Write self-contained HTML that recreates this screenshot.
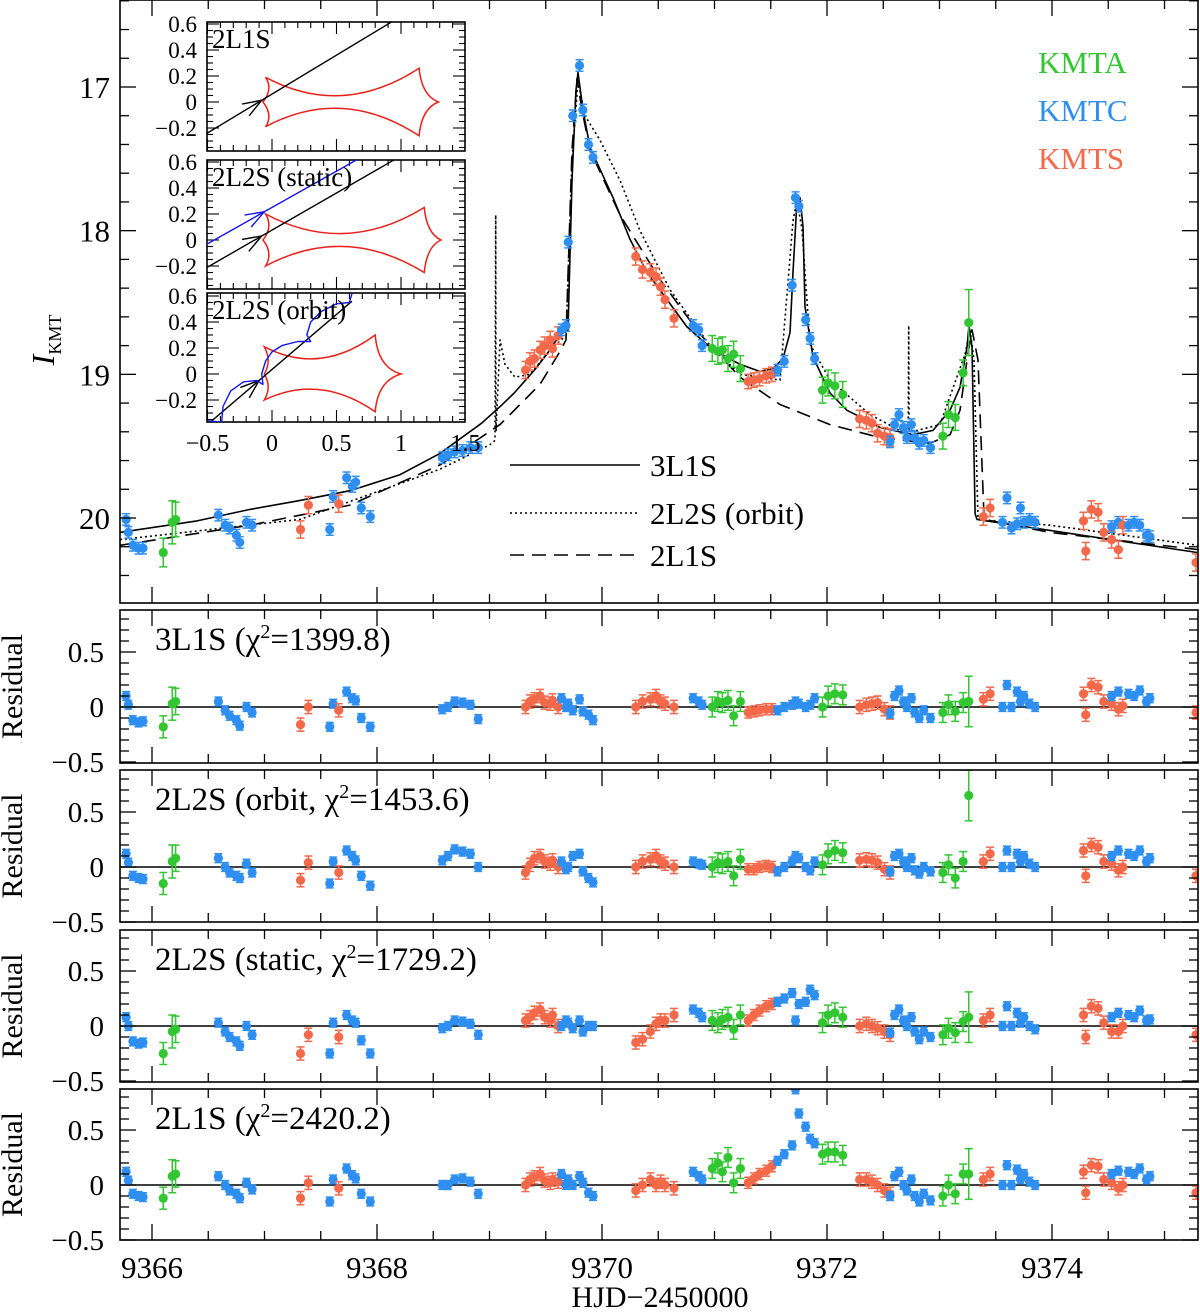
<!DOCTYPE html>
<html><head><meta charset="utf-8">
<style>
html,body{margin:0;padding:0;background:#fff;}
svg{display:block;}
text{font-family:"Liberation Serif",serif;fill:#000;}
</style></head>
<body>
<svg id="chart" width="1200" height="1312" viewBox="0 0 1200 1312" xmlns="http://www.w3.org/2000/svg"></svg>
<script>
// ---------- DATA ----------
const obsTime = [9365.77,9365.79,9365.83,9365.88,9365.92,9366.10,9366.18,9366.21,9366.59,9366.65,
9366.69,9366.75,9366.78,9366.84,9366.89,9367.32,9367.39,9367.61,9367.58,9367.66,
9367.73,9367.78,9367.81,9367.86,9367.94,9368.58,9368.63,9368.69,9368.76,9368.83,
9368.90,9369.32,9369.36,9369.40,9369.45,9369.49,9369.54,9369.56,9369.61,9369.64,
9369.68,9369.70,9369.74,9369.80,9369.83,9369.88,9369.92,9370.30,9370.36,9370.43,
9370.48,9370.52,9370.56,9370.64,9370.81,9370.86,9370.89,9370.98,9371.03,9371.07,
9371.12,9371.17,9371.23,9371.30,9371.35,9371.40,9371.46,9371.51,9371.56,9371.62,
9371.69,9371.72,9371.75,9371.81,9371.85,9371.89,9371.96,9372.01,9372.07,9372.14,
9372.29,9372.35,9372.40,9372.45,9372.51,9372.56,9372.56,9372.60,9372.64,9372.68,
9372.71,9372.75,9372.78,9372.82,9372.86,9372.92,9373.03,9373.08,9373.14,9373.21,
9373.26,9373.39,9373.45,9373.56,9373.60,9373.64,9373.69,9373.72,9373.75,9373.80,
9373.85,9374.28,9374.30,9374.35,9374.41,9374.46,9374.53,9374.53,9374.59,9374.63,
9374.59,9374.68,9374.73,9374.78,9374.84,9374.87,9375.28];
const obsMag = [20.01,20.10,20.19,20.21,20.21,20.24,20.03,20.01,19.98,20.05,
20.07,20.12,20.17,20.03,20.05,20.08,19.91,19.85,20.08,19.90,
19.72,19.78,19.75,19.93,19.99,19.58,19.56,19.54,19.53,19.51,
19.51,18.97,18.91,18.89,18.83,18.80,18.76,18.82,18.73,18.69,
18.66,18.08,17.20,16.85,17.16,17.40,17.49,18.18,18.27,18.29,
18.32,18.39,18.48,18.61,18.66,18.69,18.80,18.82,18.84,18.83,
18.89,18.86,18.96,19.05,19.04,19.03,19.01,19.00,18.97,18.91,
18.38,17.77,17.83,18.62,18.75,18.89,19.11,19.06,19.08,19.14,
19.31,19.32,19.34,19.41,19.43,19.44,19.47,19.35,19.28,19.37,
19.44,19.35,19.44,19.48,19.46,19.51,19.43,19.28,19.30,18.99,
18.64,19.99,19.93,20.03,19.86,20.07,20.04,19.93,20.03,20.01,
20.03,20.02,20.23,19.94,19.96,20.10,20.15,20.06,20.03,20.05,
20.22,20.05,20.03,20.05,20.12,20.13,20.31];
const obsSite = ["C","C","C","C","C","A","A","A","C","C",
"C","C","C","C","C","S","S","C","C","S",
"C","C","C","C","C","C","C","C","C","C",
"C","S","S","S","S","S","S","S","S","C",
"C","C","C","C","C","C","C","S","S","S",
"S","S","S","S","C","C","C","A","A","A",
"A","A","A","S","S","S","S","S","C","C",
"C","C","C","C","C","C","A","A","A","A",
"S","S","S","S","S","S","C","C","C","C",
"C","C","C","C","C","C","A","A","A","A",
"A","S","S","C","C","C","C","C","C","C",
"C","S","S","S","S","S","S","C","C","S",
"S","C","C","C","C","C","S"];
const obsErr = [0.04,0.04,0.04,0.04,0.04,0.10,0.15,0.12,0.04,0.04,
0.04,0.04,0.04,0.04,0.04,0.06,0.06,0.04,0.04,0.06,
0.04,0.04,0.04,0.04,0.04,0.04,0.04,0.04,0.04,0.04,
0.04,0.06,0.06,0.06,0.06,0.06,0.06,0.06,0.06,0.04,
0.04,0.04,0.04,0.04,0.04,0.04,0.04,0.06,0.06,0.06,
0.06,0.06,0.06,0.06,0.04,0.04,0.04,0.09,0.09,0.09,
0.09,0.09,0.09,0.05,0.05,0.05,0.05,0.05,0.04,0.04,
0.04,0.04,0.04,0.04,0.04,0.04,0.09,0.09,0.09,0.09,
0.06,0.06,0.06,0.06,0.06,0.06,0.04,0.04,0.04,0.04,
0.04,0.04,0.04,0.04,0.04,0.04,0.09,0.09,0.09,0.09,
0.23,0.06,0.06,0.04,0.04,0.04,0.04,0.04,0.04,0.04,
0.04,0.06,0.06,0.06,0.06,0.06,0.06,0.04,0.04,0.06,
0.06,0.04,0.04,0.04,0.04,0.04,0.06];
const res3L1S = [0.10,0.02,-0.12,-0.14,-0.13,-0.18,0.03,0.05,0.05,-0.03,
-0.08,-0.12,-0.17,0.00,-0.05,-0.16,0.00,0.03,-0.18,-0.03,
0.14,0.08,0.06,-0.10,-0.18,-0.02,0.00,0.05,0.04,0.02,
-0.11,0.00,0.05,0.07,0.10,0.04,0.03,0.06,0.00,0.08,
0.00,0.03,-0.03,0.07,-0.04,-0.07,-0.12,0.00,0.05,0.07,
0.10,0.05,0.03,0.00,0.08,0.05,0.02,0.00,0.05,0.04,
0.06,-0.08,0.05,-0.05,-0.04,-0.03,-0.02,-0.02,-0.03,0.00,
0.02,0.05,0.03,0.00,0.02,0.08,0.00,0.10,0.12,0.11,
0.00,0.02,0.03,0.04,-0.02,-0.05,-0.06,0.10,0.15,0.05,
0.00,0.08,-0.05,-0.10,-0.03,-0.10,-0.05,0.02,-0.04,0.04,
0.05,0.07,0.12,0.00,0.20,0.00,0.14,0.05,0.10,0.03,
0.00,0.12,-0.07,0.20,0.18,0.05,0.03,0.10,0.14,0.01,
-0.02,0.12,0.10,0.15,0.05,0.08,-0.05];
const res2L2SOrbit = [0.12,0.04,-0.08,-0.10,-0.11,-0.15,0.05,0.08,0.08,0.00,
-0.05,-0.08,-0.10,0.03,-0.05,-0.12,0.04,0.05,-0.15,-0.05,
0.15,0.10,0.06,-0.08,-0.17,0.06,0.10,0.16,0.14,0.12,
0.00,-0.05,0.02,0.08,0.10,0.05,0.03,0.06,0.00,0.05,
-0.02,0.00,0.10,0.12,-0.04,-0.10,-0.14,0.00,0.05,0.07,
0.10,0.05,0.03,0.00,0.05,0.03,0.02,0.00,0.04,0.03,
0.05,-0.08,0.07,-0.02,-0.02,0.00,0.01,0.00,-0.04,0.00,
0.05,0.10,0.08,0.00,-0.03,0.05,0.02,0.12,0.15,0.13,
0.06,0.07,0.06,0.04,-0.02,-0.05,-0.04,0.10,0.12,0.05,
0.00,0.08,-0.03,-0.06,0.00,-0.04,-0.05,0.02,-0.10,0.05,
0.65,0.05,0.12,0.00,0.15,0.00,0.12,0.05,0.10,0.03,
0.00,0.15,-0.08,0.20,0.18,0.05,0.03,0.10,0.15,0.00,
-0.03,0.12,0.10,0.15,0.05,0.08,-0.08];
const res2L2SStatic = [0.08,0.00,-0.14,-0.16,-0.15,-0.25,-0.05,-0.03,0.03,-0.05,
-0.10,-0.14,-0.18,0.00,-0.08,-0.25,-0.08,0.03,-0.25,-0.10,
0.10,0.05,0.03,-0.13,-0.25,-0.02,0.00,0.05,0.04,0.02,
-0.08,0.05,0.08,0.12,0.15,0.08,0.05,0.10,0.00,0.00,
0.05,0.03,-0.02,0.05,-0.05,0.00,0.00,-0.15,-0.12,-0.05,
0.02,0.05,0.05,0.10,0.15,0.12,0.08,0.05,0.03,0.06,
0.08,-0.03,0.10,0.05,0.10,0.14,0.18,0.20,0.22,0.25,
0.30,0.05,0.20,0.22,0.33,0.28,0.03,0.10,0.12,0.08,
0.00,0.02,0.00,-0.02,-0.05,-0.08,-0.06,0.10,0.15,0.05,
0.00,0.08,-0.05,-0.12,-0.05,-0.10,-0.08,-0.02,-0.06,0.04,
0.08,0.05,0.10,0.00,0.18,0.00,0.12,0.03,0.08,0.00,
-0.03,0.10,-0.10,0.18,0.16,0.03,-0.05,0.08,0.12,0.00,
-0.05,0.10,0.08,0.14,0.05,0.06,-0.08];
const res2L1S = [0.12,0.04,-0.08,-0.10,-0.11,-0.12,0.08,0.10,0.08,0.00,
-0.05,-0.08,-0.12,0.02,-0.04,-0.12,0.02,0.05,-0.15,-0.03,
0.15,0.09,0.06,-0.08,-0.15,0.00,0.00,0.05,0.06,0.03,
-0.08,0.00,0.05,0.07,0.10,0.04,0.02,0.05,0.03,0.10,
0.00,0.05,0.00,0.08,0.02,-0.07,-0.10,-0.05,0.00,0.05,
0.00,0.03,0.00,-0.03,0.12,0.08,0.05,0.15,0.20,0.12,
0.25,0.02,0.15,0.02,0.06,0.10,0.13,0.17,0.22,0.28,
0.36,0.87,0.65,0.53,0.42,0.38,0.28,0.30,0.30,0.27,
0.05,0.05,0.03,0.00,-0.05,-0.08,-0.10,0.08,0.12,0.00,
-0.05,0.05,-0.10,-0.15,-0.08,-0.14,-0.10,0.00,-0.08,0.10,
0.10,0.05,0.10,0.00,0.18,0.00,0.14,0.05,0.10,0.03,
0.00,0.12,-0.07,0.18,0.17,0.05,0.02,0.10,0.13,0.00,
-0.03,0.12,0.10,0.15,0.05,0.08,-0.07];

// model curves
const m3L1S_t = [9365.716,9366.4,9366.871,9367.3,9367.76,9368.2,9368.56,9368.93,9369.10,9369.22,9369.40,9369.52,9369.62,9369.698,9369.733,9369.769,9369.787,9369.831,9369.893,9370.098,9370.249,9370.40,9370.578,9370.756,9370.987,9371.227,9371.404,9371.52,9371.609,9371.671,9371.698,9371.733,9371.76,9371.787,9371.804,9371.876,9372.027,9372.178,9372.356,9372.471,9372.764,9372.942,9373.093,9373.182,9373.244,9373.262,9373.289,9373.316,9373.333,9375.29];
const m3L1S_I = [20.10,20.02,19.94,19.88,19.81,19.70,19.55,19.34,19.22,19.13,18.97,18.85,18.73,18.69,17.65,17.02,16.90,17.16,17.42,17.77,18.06,18.29,18.48,18.67,18.83,18.93,18.98,18.96,18.89,18.71,18.29,17.79,17.77,17.97,18.53,18.88,19.13,19.25,19.32,19.37,19.42,19.39,19.25,19.09,18.81,18.66,18.81,19.97,20.01,20.24];
const m2L1S_t = [9365.716,9366.871,9367.76,9368.56,9369.093,9369.449,9369.627,9369.68,9369.733,9369.778,9369.822,9369.893,9370.16,9370.516,9370.871,9371.227,9371.582,9372.027,9372.471,9372.916,9373.093,9373.182,9373.244,9373.289,9373.342,9373.396,9373.982,9375.298];
const m2L1S_I = [20.19,20.05,19.91,19.63,19.35,19.07,18.84,18.76,17.44,16.94,17.16,17.44,17.89,18.34,18.72,19.02,19.21,19.35,19.44,19.48,19.42,19.25,18.90,18.69,18.90,20.01,20.10,20.22];
const m2L2S_t = [9365.716,9367.316,9368.56,9369.004,9369.049,9369.055,9369.058,9369.093,9369.138,9369.227,9369.36,9369.538,9369.68,9369.733,9369.787,9369.849,9369.982,9370.16,9370.338,9370.604,9370.96,9371.227,9371.582,9371.698,9371.733,9371.778,9371.849,9372.027,9372.382,9372.693,9372.722,9372.726,9372.73,9372.756,9373.004,9373.227,9373.271,9373.307,9373.342,9373.982,9375.298];
const m2L2S_I = [20.15,20.01,19.66,19.49,19.46,17.89,19.40,18.76,18.93,19.02,19.00,18.83,18.73,17.51,16.96,17.20,17.37,17.65,18.00,18.41,18.80,19.00,19.04,17.93,17.79,17.99,18.79,19.04,19.28,19.41,19.39,18.66,19.39,19.40,19.35,18.86,18.69,18.90,20.01,20.05,20.19];

// ---------- HELPERS ----------
const svg = document.getElementById('chart');
const NS = 'http://www.w3.org/2000/svg';
const COL = {A:'#33c633', C:'#2e8ff0', S:'#f5694b'};
function mk(tag, attrs, parent){
  const e = document.createElementNS(NS, tag);
  for (const k in attrs) e.setAttribute(k, attrs[k]);
  (parent||svg).appendChild(e);
  return e;
}
function txt(str, x, y, size, anchor, parent, family){
  const e = mk('text', {x:x, y:y, 'font-size':size, 'text-anchor':anchor||'start'}, parent);
  if (family) e.setAttribute('font-family', family);
  e.textContent = str;
  return e;
}
const X = t => 152 + 112.5*(t-9366);
const Y = I => 87 + 143.67*(I-17);
const L = 120, R = 1198;

const defs = mk('defs', {});
function clip(id, x, y, w, h){
  const c = mk('clipPath', {id:id}, defs);
  mk('rect', {x:x, y:y, width:w, height:h}, c);
}
clip('cMain', L, 0, R-L, 603);

// ---------- MAIN PANEL ----------
const mainG = mk('g', {'clip-path':'url(#cMain)'});



function modelPath(ts, Is, dash, name){
  let d = '';
  ts.forEach((t,i)=>{ d += (i?'L':'M') + X(t).toFixed(1) + ',' + Y(Is[i]).toFixed(1); });
  const p = mk('path', {d:d, fill:'none', stroke:'#000', 'stroke-width':1.6, 'stroke-dasharray':dash, 'stroke-linejoin':'round'}, mainG);
  
  
}
modelPath(m2L2S_t, m2L2S_I, '2,3', 'model-2l2s-orbit');
modelPath(m2L1S_t, m2L1S_I, '14,8', 'model-2l1s');
modelPath(m3L1S_t, m3L1S_I, 'none', 'model-3l1s');

function point(g, cx, cy, eh, site){
  const c = COL[site];
  mk('line', {x1:cx, x2:cx, y1:cy-eh, y2:cy+eh, stroke:c, 'stroke-width':1.5}, g);
  mk('line', {x1:cx-4, x2:cx+4, y1:cy-eh, y2:cy-eh, stroke:c, 'stroke-width':1.5}, g);
  mk('line', {x1:cx-4, x2:cx+4, y1:cy+eh, y2:cy+eh, stroke:c, 'stroke-width':1.5}, g);
  return mk('circle', {cx:cx, cy:cy, r:4.6, fill:c}, g);
}
obsTime.forEach((t,i)=>{
  const p = point(mainG, X(t), Y(obsMag[i]), obsErr[i]*143.67, obsSite[i]);
  
  
});

function frame(x, y, w, h, name){
  const r = mk('rect', {x:x, y:y, width:w, height:h, fill:'none', stroke:'#000', 'stroke-width':1.6});
  
  
}
function xTicks(top, bot, withLabels){
  for (let t=9366; t<=9375.3; t+=0.5){
    const x = X(t); if (x<L||x>R) continue;
    const major = Math.abs(t/2 - Math.round(t/2))<1e-6;
    const len = major?16:9;
    mk('line', {x1:x, x2:x, y1:bot, y2:bot-len, stroke:'#000', 'stroke-width':1.3});
    mk('line', {x1:x, x2:x, y1:top, y2:top+len, stroke:'#000', 'stroke-width':1.3});
    if (withLabels && major){
      const l = txt(String(t), x, 1278, 31, 'middle');
      
      
    }
  }
}
frame(L, 0, R-L, 603, 'main-panel-frame');
xTicks(0, 603, false);
for (let v=16.4; v<=20.6; v+=0.2){
  const vv = Math.round(v*10)/10;
  const y = Y(vv); if (y<0||y>603) continue;
  const major = Math.abs(vv-Math.round(vv))<1e-6;
  const len = major?16:9;
  mk('line', {x1:L, x2:L+len, y1:y, y2:y, stroke:'#000', 'stroke-width':1.3});
  mk('line', {x1:R, x2:R-len, y1:y, y2:y, stroke:'#000', 'stroke-width':1.3});
  if (major){
    const l = txt(String(vv), 110, y+11, 31, 'end');
    
    
  }
}
const yt = mk('text', {x:0, y:0, 'font-size':32, 'font-style':'italic', transform:'translate(54,340) rotate(-90)', 'text-anchor':'middle'});


yt.innerHTML = 'I<tspan font-size="18" font-style="normal" dy="7">KMT</tspan>';

[['KMTA','A',73],['KMTC','C',121],['KMTS','S',169]].forEach(s=>{
  const l = txt(s[0], 1038, s[2], 31, 'start', null, '"Liberation Sans",sans-serif');
  l.setAttribute('fill', COL[s[1]]);
  l.style.fill = COL[s[1]];
  
  
});
[['3L1S','none',465],['2L2S (orbit)','2,3',513],['2L1S','14,8',555]].forEach(s=>{
  const ln = mk('line', {x1:510, x2:640, y1:s[2], y2:s[2], stroke:'#000', 'stroke-width':1.6, 'stroke-dasharray':s[1]});
  
  
  const l = txt(s[0], 650, s[2]+11, 31, 'start');
  
  
});

// ---------- INSET ----------
const IX = x => 272 + 129*x;
const insetPanels = [{top:22, bot:151, zero:102, title:'2L1S'},
                     {top:160, bot:289, zero:240, title:'2L2S (static)'},
                     {top:293, bot:422, zero:374, title:'2L2S (orbit)'}];
const causticCusps = [
  {l:-0.07, tlx:-0.05, tly:0.19, mid:0.06, trx:1.14, try_:0.26, r:1.29, bly:-0.19, bry:-0.26},
  {l:-0.07, tlx:-0.05, tly:0.20, mid:0.06, trx:1.18, try_:0.25, r:1.31, bly:-0.20, bry:-0.25},
  {l:-0.06, tlx:-0.06, tly:0.21, mid:0.13, trx:0.80, try_:0.30, r:1.00, bly:-0.20, bry:-0.29}];
insetPanels.forEach((p,k)=>{
  const IY = y => p.zero - 130*y;
  clip('cIn'+k, 207, p.top, 258, p.bot-p.top);
  const bg = mk('rect', {x:207, y:p.top, width:258, height:p.bot-p.top, fill:'#fff', stroke:'#000', 'stroke-width':1.6});
  
  
  const g = mk('g', {'clip-path':'url(#cIn'+k+')'});
  for (let x=-0.5; x<=1.51; x+=0.1){
    const xx = IX(x), major = Math.abs(x*2-Math.round(x*2))<1e-6, len = major?12:6;
    mk('line', {x1:xx, x2:xx, y1:p.bot, y2:p.bot-len, stroke:'#000', 'stroke-width':1.1}, g);
    mk('line', {x1:xx, x2:xx, y1:p.top, y2:p.top+len, stroke:'#000', 'stroke-width':1.1}, g);
  }
  for (let y=-0.4; y<=0.61; y+=0.05){
    const yy = IY(y), major = Math.abs(y*5-Math.round(y*5))<1e-6, len = major?12:6;
    mk('line', {x1:207, x2:207+len, y1:yy, y2:yy, stroke:'#000', 'stroke-width':1.1}, g);
    mk('line', {x1:465, x2:465-len, y1:yy, y2:yy, stroke:'#000', 'stroke-width':1.1}, g);
  }
  ['0.6','0.4','0.2','0','−0.2'].forEach((s,j)=>{
    const v = [0.6,0.4,0.2,0,-0.2][j];
    const l = txt(s, 197, IY(v)+8, 23, 'end');
    
    
  });
  const c = causticCusps[k];
  const P = (x,y)=> IX(x).toFixed(1)+','+IY(y).toFixed(1);
  const cm = (c.tlx + c.trx)/2;
  const d = 'M'+P(c.l,0)+' Q'+P(c.tlx+0.06,0.1)+' '+P(c.tlx,c.tly)+
    ' Q'+P(cm, 2*c.mid - (c.tly+c.try_)/2 - 0.02)+' '+P(c.trx,c.try_)+
    ' Q'+P(c.trx+0.02, 0.05)+' '+P(c.r,0)+
    ' Q'+P(c.trx+0.02, -0.05)+' '+P(c.trx,c.bry)+
    ' Q'+P(cm, -(2*c.mid - (Math.abs(c.bly)+Math.abs(c.bry))/2 - 0.02))+' '+P(c.tlx,c.bly)+
    ' Q'+P(c.tlx+0.06,-0.1)+' '+P(c.l,0)+'Z';
  const cp = mk('path', {d:d, fill:'none', stroke:'#e8211b', 'stroke-width':1.5}, g);
  
  
  function traj(x1,y1,x2,y2,col,ax,name){
    const ln = mk('line', {x1:IX(x1), y1:IY(y1), x2:IX(x2), y2:IY(y2), stroke:col, 'stroke-width':1.4}, g);
    
    
    const ang = Math.atan2(IY(y2)-IY(y1), IX(x2)-IX(x1));
    const ay = y1 + (ax-x1)*(y2-y1)/(x2-x1);
    const hx = IX(ax), hy = IY(ay);
    const a1 = ang + Math.PI - 0.35, a2 = ang + Math.PI + 0.35;
    mk('path', {d:'M'+(hx+20*Math.cos(a1))+','+(hy+20*Math.sin(a1))+' L'+hx+','+hy+' L'+(hx+20*Math.cos(a2))+','+(hy+20*Math.sin(a2)), fill:'none', stroke:col, 'stroke-width':1.4}, g);
  }
  if (k===0){ traj(-0.52,-0.25,0.95,0.63,'#000',-0.08,'source-trajectory'); }
  if (k===1){ traj(-0.52,-0.22,0.97,0.63,'#000',-0.08,'source-trajectory');
              traj(-0.52,-0.04,0.68,0.63,'#1515ee',-0.06,'source2-trajectory'); }
  if (k===2){
    traj(-0.49,-0.38,0.62,0.56,'#000',-0.1,'source-trajectory');
    const pts = [[-0.5,-0.36],[-0.39,-0.37],[-0.38,-0.25],[-0.32,-0.13],[-0.22,-0.06],[-0.12,-0.05],[-0.07,-0.08],[-0.08,0.0],[-0.05,0.1],[0.0,0.17],[0.08,0.22],[0.2,0.25],[0.3,0.25],[0.27,0.30],[0.3,0.40],[0.38,0.48],[0.5,0.54],[0.6,0.55],[0.62,0.62]];
    let dd=''; pts.forEach((q,i)=>{ dd += (i?'L':'M') + P(q[0],q[1]); });
    const bp = mk('path', {d:dd, fill:'none', stroke:'#1515ee', 'stroke-width':1.4, 'stroke-linejoin':'round'}, g);
    
    
  }
  const tl = txt(p.title, 212, p.top+26, 27, 'start');
  
  
});
['−0.5','0','0.5','1','1.5'].forEach((s,j)=>{
  const l = txt(s, IX([-0.5,0,0.5,1,1.5][j]), 451, 24, 'middle');
  
  
});

// ---------- RESIDUAL PANELS ----------
const resPanels = [
  {top:610, bot:763, zero:707, label:'3L1S (χ²=1399.8)', vals:res3L1S},
  {top:770, bot:922, zero:867, label:'2L2S (orbit, χ²=1453.6)', vals:res2L2SOrbit},
  {top:930, bot:1082, zero:1026, label:'2L2S (static, χ²=1729.2)', vals:res2L2SStatic},
  {top:1089, bot:1240, zero:1185, label:'2L1S (χ²=2420.2)', vals:res2L1S}];
resPanels.forEach((p,k)=>{
  const RY = r => p.zero - 110*r;
  clip('cRes'+k, L, p.top, R-L, p.bot-p.top);
  const g = mk('g', {'clip-path':'url(#cRes'+k+')'});
  
  
  mk('line', {x1:L, x2:R, y1:RY(0), y2:RY(0), stroke:'#000', 'stroke-width':1.5}, g);
  obsTime.forEach((t,i)=>{
    const c = point(g, X(t), RY(p.vals[i]), obsErr[i]*110, obsSite[i]);
    
    
  });
  frame(L, p.top, R-L, p.bot-p.top, 'residual-frame-' + (k+1));
  xTicks(p.top, p.bot, k===3);
  for (let v=-0.5; v<=0.9; v+=0.1){
    const vv = Math.round(v*10)/10, y = RY(vv);
    if (y<p.top-1||y>p.bot+1) continue;
    const major = Math.abs(vv*2-Math.round(vv*2))<1e-6, len = major?16:9;
    mk('line', {x1:L, x2:L+len, y1:y, y2:y, stroke:'#000', 'stroke-width':1.3});
    mk('line', {x1:R, x2:R-len, y1:y, y2:y, stroke:'#000', 'stroke-width':1.3});
    if (major){
      const s = vv===0 ? '0' : (vv<0 ? '−'+Math.abs(vv) : String(vv));
      const l = txt(s, 104, y+10, 29, 'end');
      
      
    }
  }
  const lab = txt('', 155, p.top+40, 33, 'start');
  lab.innerHTML = p.label.replace('²','<tspan font-size="20" dy="-12">2</tspan><tspan dy="12">') + '</tspan>';
  
  
  const yl = mk('text', {x:0, y:0, 'font-size':30, 'text-anchor':'middle', transform:'translate(22,'+((p.top+p.bot)/2)+') rotate(-90)'});
  yl.textContent = 'Residual';
  
  
});
const xt = txt('HJD−2450000', 660, 1307, 30, 'middle');


</script>
</body></html>
